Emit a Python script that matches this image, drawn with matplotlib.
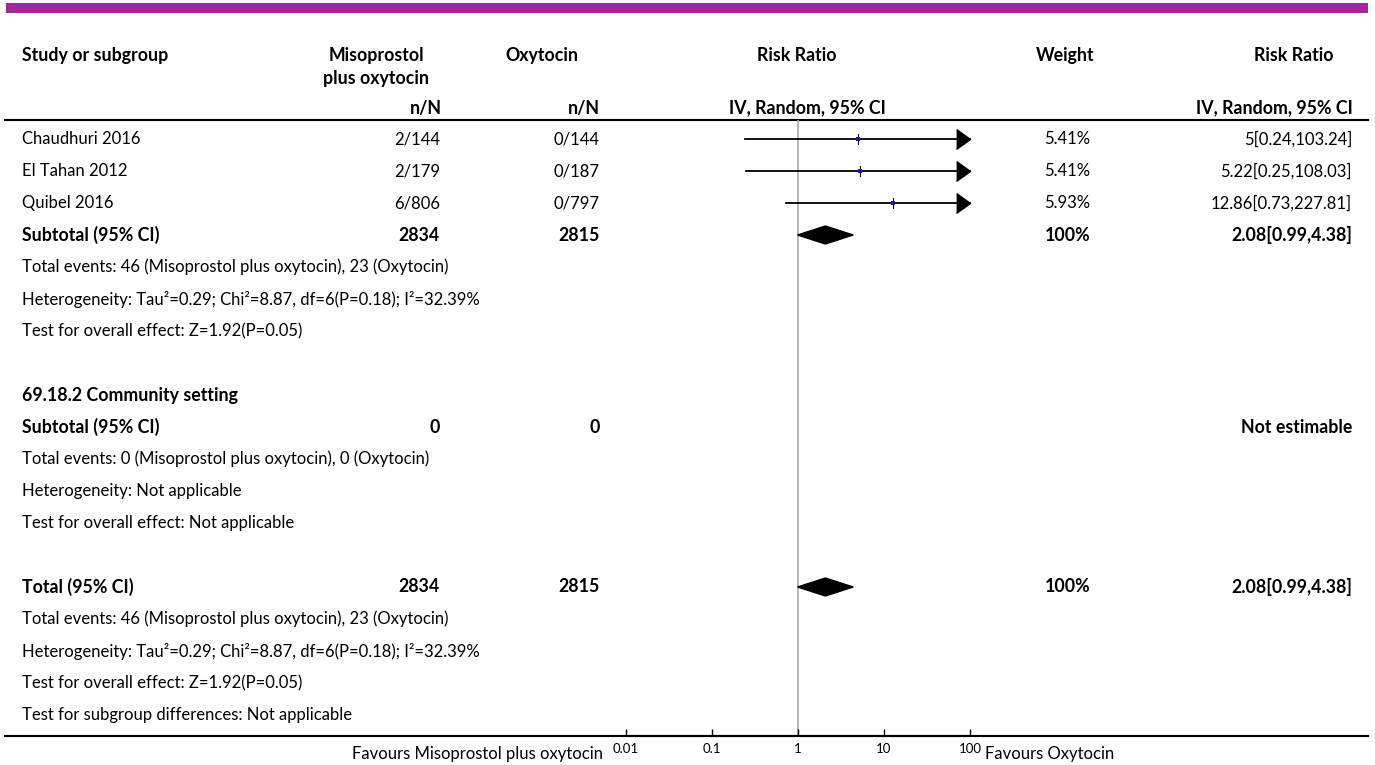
import numpy as np
import matplotlib.pyplot as plt
from matplotlib.patches import Polygon, Rectangle

plt.rcParams['font.family'] = ['Lato', 'DejaVu Sans']

# ---- data ----
studies = ["Chaudhuri 2016", "El Tahan 2012", "Quibel 2016"]
events_miso = ["2/144", "2/179", "6/806"]
events_oxy = ["0/144", "0/187", "0/797"]
rr = [5.0, 5.22, 12.86]
ci_low = [0.24, 0.25, 0.73]
ci_high = [103.24, 108.03, 227.81]
weights = ["5.41%", "5.41%", "5.93%"]
rr_text = ["5[0.24,103.24]", "5.22[0.25,108.03]", "12.86[0.73,227.81]"]

sub_total_miso = "2834"
sub_total_oxy = "2815"
pooled = 2.08
pooled_low = 0.99
pooled_high = 4.38
pooled_text = "2.08[0.99,4.38]"

ticks = [0.01, 0.1, 1, 10, 100]
tick_labels = ["0.01", "0.1", "1", "10", "100"]

W, H = 1375, 765
fig = plt.figure(figsize=(W / 100, H / 100), dpi=100)
ax = fig.add_axes([0, 0, 1, 1])
ax.set_xlim(0, W)
ax.set_ylim(H, 0)
ax.axis("off")

FS = 12
BOLD = dict(fontsize=12.8, fontweight="bold", va="center")
NORM = dict(fontsize=FS, va="center")

ROW0, STEP = 139, 32
def row(k):
    return ROW0 + STEP * k

# top purple bar
ax.add_patch(Rectangle((6, 3), 1362, 10, color="#a0289a", lw=0))

# headers
ax.text(22, 55, "Study or subgroup", ha="left", **BOLD)
ax.text(376, 55, "Misoprostol", ha="center", **BOLD)
ax.text(376, 78, "plus oxytocin", ha="center", **BOLD)
ax.text(542, 55, "Oxytocin", ha="center", **BOLD)
ax.text(797, 55, "Risk Ratio", ha="center", **BOLD)
ax.text(1065, 55, "Weight", ha="center", **BOLD)
ax.text(1294, 55, "Risk Ratio", ha="center", **BOLD)
ax.text(442, 108, "n/N", ha="right", **BOLD)
ax.text(600, 108, "n/N", ha="right", **BOLD)
ax.text(807, 108, "IV, Random, 95% CI", ha="center", **BOLD)
ax.text(1353, 108, "IV, Random, 95% CI", ha="right", **BOLD)
ax.plot([5, 1368], [120, 120], color="black", lw=1.5)

# study rows
for i, name in enumerate(studies):
    y = row(i)
    ax.text(22, y, name, ha="left", **NORM)
    ax.text(440, y, events_miso[i], ha="right", **NORM)
    ax.text(600, y, events_oxy[i], ha="right", **NORM)
    ax.text(1090, y, weights[i], ha="right", **NORM)
    ax.text(1352, y, rr_text[i], ha="right", **NORM)


def block(k, title, n1, n2, wt, est, ev, het, test):
    y0 = row(k)
    ax.text(22, y0, title, ha="left", **BOLD)
    ax.text(440, y0, n1, ha="right", **BOLD)
    ax.text(600, y0, n2, ha="right", **BOLD)
    if wt:
        ax.text(1090, y0, wt, ha="right", **BOLD)
    ax.text(1352, y0, est, ha="right", **BOLD)
    ax.text(22, row(k + 1), ev, ha="left", **NORM)
    ax.text(22, row(k + 2), het, ha="left", **NORM)
    ax.text(22, row(k + 3), test, ha="left", **NORM)


ev1 = "Total events: 46 (Misoprostol plus oxytocin), 23 (Oxytocin)"
het1 = "Heterogeneity: Tau²=0.29; Chi²=8.87, df=6(P=0.18); I²=32.39%"
test1 = "Test for overall effect: Z=1.92(P=0.05)"

block(3, "Subtotal (95% CI)", sub_total_miso, sub_total_oxy, "100%",
      pooled_text, ev1, het1, test1)
ax.text(22, row(8), "69.18.2 Community setting", ha="left", **BOLD)
block(9, "Subtotal (95% CI)", "0", "0", None, "Not estimable",
      "Total events: 0 (Misoprostol plus oxytocin), 0 (Oxytocin)",
      "Heterogeneity: Not applicable", "Test for overall effect: Not applicable")
block(14, "Total (95% CI)", sub_total_miso, sub_total_oxy, "100%",
      pooled_text, ev1, het1, test1)
ax.text(22, row(18), "Test for subgroup differences: Not applicable", ha="left", **NORM)

# bottom line and favours labels
y_bot = 736
ax.plot([5, 1368], [y_bot, y_bot], color="black", lw=1.5)
ax.text(603, 754, "Favours Misoprostol plus oxytocin", ha="right", **NORM)
ax.text(985, 754, "Favours Oxytocin", ha="left", **NORM)

# forest axes (log scale)
x0, x1 = 626, 970
y_top = 120
fax = fig.add_axes([x0 / W, 1 - y_bot / H, (x1 - x0) / W, (y_bot - y_top) / H])
fax.set_xscale("log")
fax.set_xlim(0.01, 100)
fax.set_ylim(y_bot, y_top)
fax.patch.set_alpha(0)
for s in ["top", "right", "left"]:
    fax.spines[s].set_visible(False)
fax.spines["bottom"].set_linewidth(1.5)
fax.set_yticks([])
fax.set_xticks(ticks)
fax.set_xticklabels(tick_labels, fontsize=9.5)
fax.minorticks_off()
fax.tick_params(axis="x", direction="in", length=5, width=1, pad=5)
fax.axvline(1, color="#a8a8a8", lw=1.2, zorder=1)

arrow = [(-1.4, -1), (0, 0), (-1.4, 1)]
for i in range(len(studies)):
    y = row(i)
    hi = min(ci_high[i], 100)
    fax.plot([ci_low[i], hi], [y, y], color="black", lw=1.3, zorder=3, clip_on=False)
    if ci_high[i] > 100:
        fax.plot(100, y, marker=arrow, color="black", ms=20, clip_on=False, zorder=3)
    fax.plot([rr[i], rr[i]], [y - 5, y + 5], color="black", lw=0.8, zorder=4)
    fax.plot(rr[i], y, marker="s", color="#1a1aa0", ms=2.8, mew=0, zorder=5)

for k in [3, 14]:
    yd = row(k)
    dia = Polygon([[pooled_low, yd], [pooled, yd - 9], [pooled_high, yd], [pooled, yd + 9]],
                  closed=True, color="black", zorder=3)
    fax.add_patch(dia)

fig.savefig("out.png", dpi=100)
